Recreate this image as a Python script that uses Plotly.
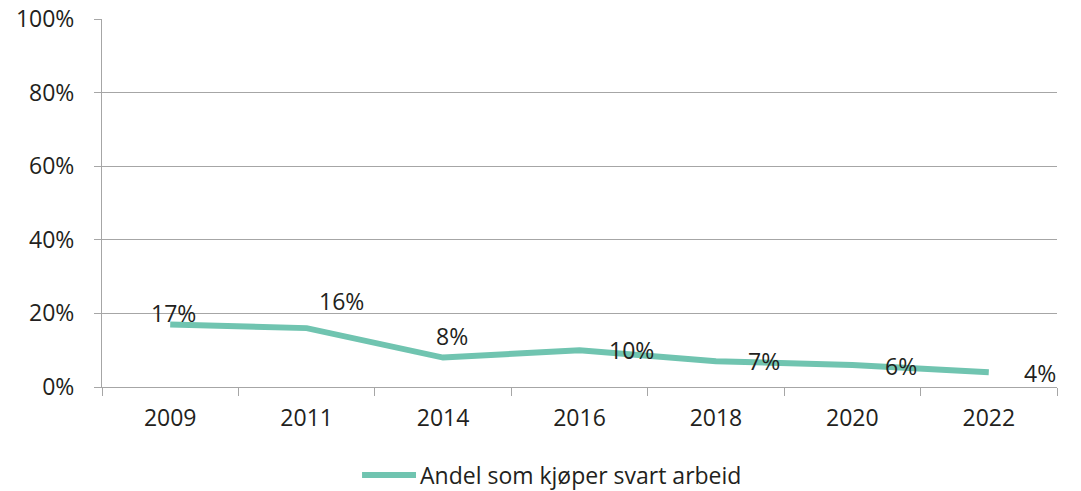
import plotly.graph_objects as go

years = ["2009", "2011", "2014", "2016", "2018", "2020", "2022"]
values = [17, 16, 8, 10, 7, 6, 4]
labels = ["17%", "16%", "8%", "10%", "7%", "6%", "4%"]
series_name = "Andel som kjøper svart arbeid"
# label pixel offsets (style)
xshifts = [3, 35, 9, 52, 48, 49, 51]
yshifts = [11, 27, 22, 0, 0, -1, -1]

TEXT = "#231F20"
GRID = "#A6A6A6"
LINE = "#70C4B0"
FONT = "Open Sans"
FS = 23

fig = go.Figure()
fig.add_trace(go.Scatter(
    x=years, y=values, mode="lines", name=series_name, showlegend=False,
    line=dict(color=LINE, width=6),
))
for i, (v, t, dx, dy) in enumerate(zip(values, labels, xshifts, yshifts)):
    fig.add_annotation(x=i, y=v, text=t, showarrow=False, xshift=dx, yshift=dy,
                       font=dict(family=FONT, size=FS, color=TEXT))

# custom legend (sample line + text) below the plot
fig.add_shape(type="line", xref="paper", yref="paper", x0=0.2723, x1=0.3288,
              y0=-0.2391, y1=-0.2391, line=dict(color=LINE, width=6))
fig.add_annotation(xref="paper", yref="paper", x=0.331, y=-0.2391, xanchor="left",
                   yanchor="middle", text=series_name, showarrow=False,
                   font=dict(family=FONT, size=FS, color=TEXT))

fig.update_layout(
    width=1081, height=491,
    margin=dict(l=102, r=24, t=19, b=104, autoexpand=False),
    plot_bgcolor="white", paper_bgcolor="white",
    font=dict(family=FONT, size=FS, color=TEXT),
    showlegend=False,
    xaxis=dict(type="category", categoryorder="array", categoryarray=years,
               range=[-0.5, len(years) - 0.5], autorange=False, automargin=False,
               tickson="boundaries", ticks="outside", ticklen=8, ticklabelstandoff=10,
               tickcolor=GRID, showline=True, linecolor=GRID, linewidth=1,
               showgrid=False, tickfont=dict(size=FS, color=TEXT), fixedrange=True),
    yaxis=dict(range=[0, 100], autorange=False, automargin=False,
               tickvals=[0, 20, 40, 60, 80, 100],
               ticktext=["0%", "20%", "40%", "60%", "80%", "100%"],
               ticks="outside", ticklen=7, tickcolor=GRID, ticklabelstandoff=15,
               showline=True, linecolor=GRID, linewidth=1,
               showgrid=True, gridcolor=GRID, gridwidth=1, zeroline=False,
               tickfont=dict(size=FS, color=TEXT), fixedrange=True),
)

fig.write_html("out.html", config={"displayModeBar": False},
               post_script="document.body.style.margin='0';document.body.style.overflow='hidden';")
